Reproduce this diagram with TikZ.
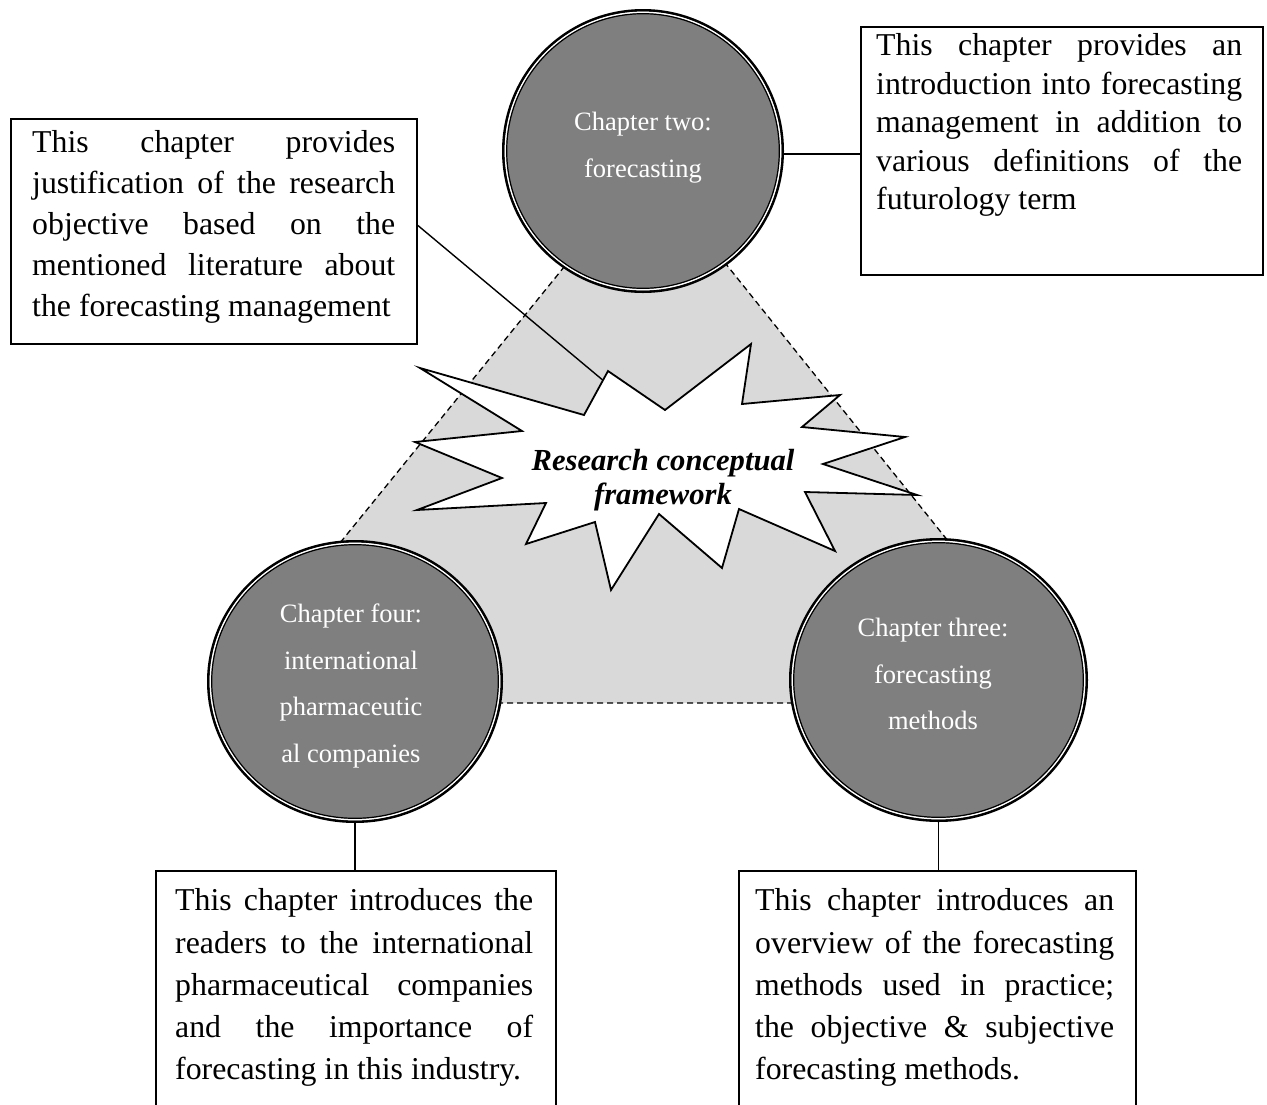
\documentclass[tikz,border=0pt]{standalone}
\usepackage{fontspec}
\setmainfont{Liberation Serif}
\usetikzlibrary{shapes.geometric,calc}
\definecolor{chapfill}{HTML}{7F7F7F}
\definecolor{trifill}{HTML}{D9D9D9}

\begin{document}
\begin{tikzpicture}[x=1pt,y=-1pt,
  textbox/.style={draw=black, line width=1.8pt, fill=white, inner sep=0pt, anchor=north west},
  boxtext/.style={inner sep=0pt, anchor=north west, align=left},
  chapring/.style={ellipse, draw=black, fill=chapfill, line width=2.6pt, inner sep=0pt},
  ringgap/.style={draw=white, line width=1.5pt},
  ringin/.style={draw=black, line width=1.2pt},
  chaptext/.style={inner sep=0pt, anchor=north, align=center, text=white,
                   font=\fontsize{26.5}{46.5}\selectfont},
  tie/.style={draw=black, line width=1.4pt},
  rim/.style={dash pattern=on 6pt off 4pt, line width=1.3pt}
]
\useasboundingbox (0,0) rectangle (1267,1104);
\clip (0,0) rectangle (1267,1104);

% shaded triangle joining the three chapters
\coordinate (ta) at (646.7,165.2);
\coordinate (tl) at (210,703);
\coordinate (tr) at (1078,703);
\filldraw[fill=trifill, draw=black, rim] (ta) -- (tl) -- (tr) -- cycle;

% chapter circles with a double rim
\node[chapring, minimum width=279.4pt, minimum height=281.4pt] (c2) at (643,151) {};
\draw[ringgap] (c2.center) ellipse [x radius=137.65pt, y radius=138.65pt];
\draw[ringin]  (c2.center) ellipse [x radius=136.3pt, y radius=137.3pt];

\node[chapring, minimum width=293.4pt, minimum height=280.4pt] (c4) at (355,681.5) {};
\draw[ringgap] (c4.center) ellipse [x radius=144.65pt, y radius=138.15pt];
\draw[ringin]  (c4.center) ellipse [x radius=143.3pt, y radius=136.8pt];

\node[chapring, minimum width=296.4pt, minimum height=281.4pt] (c3) at (938.5,680) {};
\draw[ringgap] (c3.center) ellipse [x radius=146.15pt, y radius=138.65pt];
\draw[ringin]  (c3.center) ellipse [x radius=144.8pt, y radius=137.3pt];

\node[chaptext] (t2) at (643,112) {Chapter two:\\forecasting};
\node[chaptext] (t4) at (351,604) {Chapter four:\\international\\pharmaceutic\\al companies};
\node[chaptext] (t3) at (933,618) {Chapter three:\\forecasting\\methods};

% central explosion
\coordinate (s1) at (420,368);
\coordinate (s2) at (584,415);
\coordinate (s3) at (608,371);
\coordinate (s4) at (665,410);
\coordinate (s5) at (751,344);
\coordinate (s6) at (742,404);
\coordinate (s7) at (840,395);
\coordinate (s8) at (802,427);
\coordinate (s9) at (905,437);
\coordinate (s10) at (823,464);
\coordinate (s11) at (917,495);
\coordinate (s12) at (805,492);
\coordinate (s13) at (835,551);
\coordinate (s14) at (739,509);
\coordinate (s15) at (722,568);
\coordinate (s16) at (659,514);
\coordinate (s17) at (611,590);
\coordinate (s18) at (595,522);
\coordinate (s19) at (526,544);
\coordinate (s20) at (546,503);
\coordinate (s21) at (417,510);
\coordinate (s22) at (502,478);
\coordinate (s23) at (415,442);
\coordinate (s24) at (522,431);
\filldraw[fill=white, draw=black, line width=1.8pt, line join=miter]
  (s1) -- (s2) -- (s3) -- (s4) -- (s5) -- (s6) -- (s7) -- (s8) -- (s9) -- (s10)
  -- (s11) -- (s12) -- (s13) -- (s14) -- (s15) -- (s16) -- (s17) -- (s18)
  -- (s19) -- (s20) -- (s21) -- (s22) -- (s23) -- (s24) -- cycle;
\node[inner sep=0pt, anchor=north, align=center,
      font=\fontsize{30.6}{34}\selectfont\bfseries\itshape] (burst) at (663,449)
  {Research conceptual\\framework};

% description boxes
\node[textbox, minimum width=406pt, minimum height=225pt] (lb) at (10,118) {};
\node[textbox, minimum width=402pt, minimum height=248pt] (rb) at (860,26) {};
\node[textbox, minimum width=400pt, minimum height=260pt] (bl) at (155,870) {};
\node[textbox, minimum width=397pt, minimum height=260pt] (br) at (738,870) {};

% connectors
\coordinate (hit) at ($(s2)!0.79!(s3)$);
\draw[tie] ([yshift=6pt]lb.east) -- (hit);
\draw[tie] (c2.east |- 0,154) -- (rb.west |- 0,154);
\draw[tie] (c4.south) -- (c4.south |- bl.north);
\draw[tie] (c3.south) -- (c3.south |- br.north);

% box texts
\node[boxtext, font=\fontsize{31.8}{41}\selectfont] (lbt) at (32,130.6)
  {\makebox[363pt][s]{This chapter provides}\\
   \makebox[363pt][s]{justification of the research}\\
   \makebox[363pt][s]{objective based on the}\\
   \makebox[363pt][s]{mentioned literature about}\\
   the forecasting management};
\node[boxtext, font=\fontsize{31.8}{38.5}\selectfont] (rbt) at (876,33.6)
  {\makebox[366pt][s]{This chapter provides an}\\
   \makebox[366pt][s]{introduction into forecasting}\\
   \makebox[366pt][s]{management in addition to}\\
   \makebox[366pt][s]{various definitions of the}\\
   futurology term};
\node[boxtext, font=\fontsize{31.8}{42.2}\selectfont] (blt) at (175,888.6)
  {\makebox[358pt][s]{This chapter introduces the}\\
   \makebox[358pt][s]{readers to the international}\\
   \makebox[358pt][s]{pharmaceutical companies}\\
   \makebox[358pt][s]{and the importance of}\\
   forecasting in this industry.};
\node[boxtext, font=\fontsize{31.8}{42.2}\selectfont] (brt) at (755,888.6)
  {\makebox[359pt][s]{This chapter introduces an}\\
   \makebox[359pt][s]{overview of the forecasting}\\
   \makebox[359pt][s]{methods used in practice;}\\
   \makebox[359pt][s]{the objective \& subjective}\\
   forecasting methods.};
\end{tikzpicture}
\end{document}
